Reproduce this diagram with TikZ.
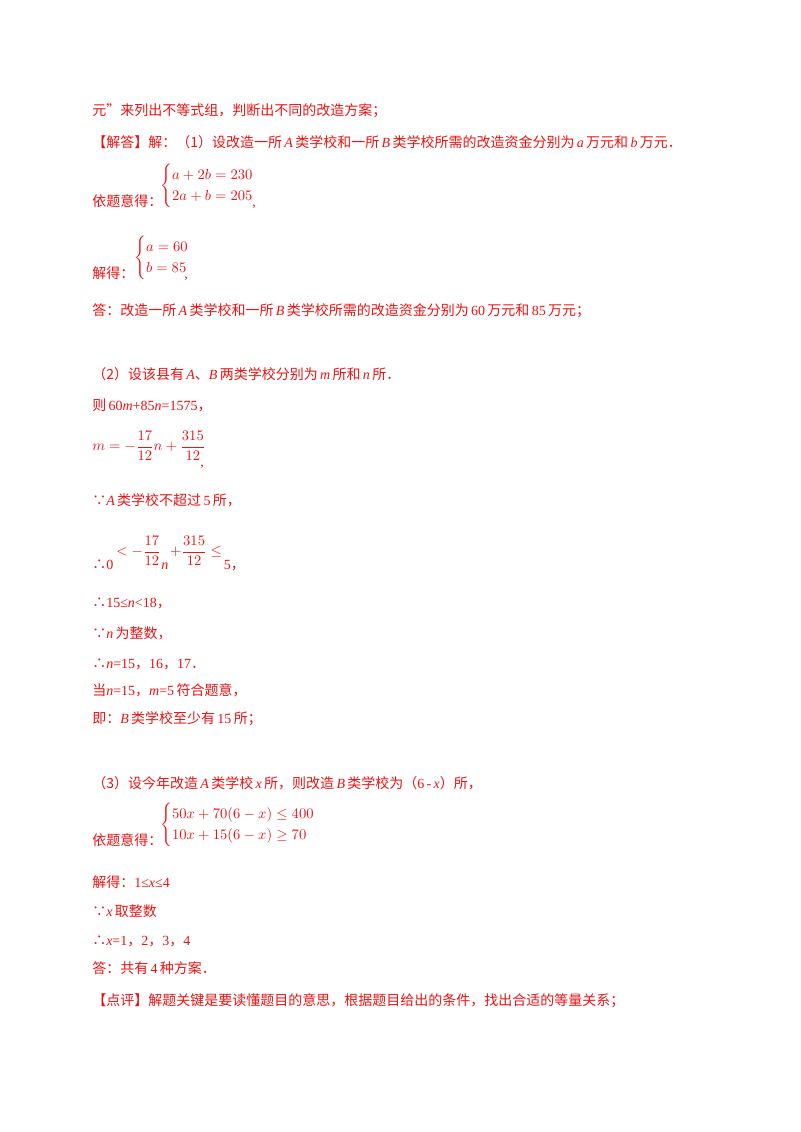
\documentclass[tikz,border=0pt]{standalone}
\usepackage{amsmath}
\usepackage{fontspec}
\setmainfont{Liberation Serif}
\newfontfamily\cjk{Noto Sans CJK SC}
\newcommand{\zh}[1]{{\cjk #1}}
\definecolor{rd}{RGB}{235,20,20}
\begin{document}
\begin{tikzpicture}[x=0.75pt,y=-0.75pt,
  t/.style={anchor=base west,inner sep=0pt,text=rd,font=\fontsize{10.5pt}{12pt}\selectfont},
  m/.style={anchor=west,inner sep=0pt,text=rd,font=\fontsize{11pt}{13pt}\selectfont}]
\useasboundingbox[fill=white] (0,0) rectangle (800,1132);
\node[t] (l1) at (92,115) {\zh{元”来列出不等式组，判断出不同的改造方案；}};
\node[t] (l2) at (92,147) {\zh{【解答】解：（1）设改造一所}\,\textit{A}\,\zh{类学校和一所}\,\textit{B}\,\zh{类学校所需的改造资金分别为}\,\textit{a}\,\zh{万元和}\,\textit{b}\,\zh{万元．}};
\node[t] (l3) at (92,206) {\zh{依题意得：}};
\node[m] (s1) at (160,186) {$\begin{cases}a+2b=230\\2a+b=205\end{cases}$};
\node[t] (c1) at (252,206) {,};
\node[t] (l4) at (92,278) {\zh{解得：}};
\node[m] (s2) at (134,258) {$\begin{cases}a=60\\b=85\end{cases}$};
\node[t] (c2) at (184,278) {,};
\node[t] (l5) at (92,315) {\zh{答：改造一所}\,\textit{A}\,\zh{类学校和一所}\,\textit{B}\,\zh{类学校所需的改造资金分别为}\,60\,\zh{万元和}\,85\,\zh{万元；}};
\node[t] (l6) at (92,379) {\zh{（2）设该县有}\,\textit{A}\zh{、}\textit{B}\,\zh{两类学校分别为}\,\textit{m}\,\zh{所和}\,\textit{n}\,\zh{所．}};
\node[t] (l7) at (92,410) {\zh{则}\,60\textit{m}+85\textit{n}=1575\zh{，}};
\node[m] (f1) at (92,446) {$m=-\dfrac{17}{12}n+\dfrac{315}{12}$};
\node[t] (c3) at (200,466) {,};
\node[t] (l8) at (92,505) {\zh{∵}\textit{A}\,\zh{类学校不超过}\,5\,\zh{所，}};
\node[t] (l9) at (92,569) {\zh{∴}0};
\node[m] (f2) at (116,551) {$<-\dfrac{17}{12}$};
\node[t] (nn) at (f2.east|-0,569) {\textit{n}};
\node[m] (f3) at ([xshift=1pt]nn.east|-f2) {$+\dfrac{315}{12}\le$};
\node[t] (l9b) at ([xshift=1pt]f3.east|-0,569) {5\zh{，}};
\node[t] (l10) at (92,607) {\zh{∴}15≤\textit{n}<18\zh{，}};
\node[t] (l11) at (92,638) {\zh{∵}\textit{n}\,\zh{为整数，}};
\node[t] (l12) at (92,668) {\zh{∴}\textit{n}=15\zh{，}16\zh{，}17\zh{．}};
\node[t] (l13) at (92,695) {\zh{当}\textit{n}=15\zh{，}\textit{m}=5\,\zh{符合题意，}};
\node[t] (l14) at (92,723) {\zh{即：}\textit{B}\,\zh{类学校至少有}\,15\,\zh{所；}};
\node[t] (l15) at (92,788) {\zh{（3）设今年改造}\,\textit{A}\,\zh{类学校}\,\textit{x}\,\zh{所，则改造}\,\textit{B}\,\zh{类学校为（}6\,-\,\textit{x}\zh{）所，}};
\node[t] (l16) at (92,845) {\zh{依题意得：}};
\node[m] (s3) at (160,825) {$\begin{cases}50x+70(6-x)\le400\\10x+15(6-x)\ge70\end{cases}$};
\node[t] (l17) at (92,887) {\zh{解得：}1≤\textit{x}≤4};
\node[t] (l18) at (92,916) {\zh{∵}\textit{x}\,\zh{取整数}};
\node[t] (l19) at (92,945) {\zh{∴}\textit{x}=1\zh{，}2\zh{，}3\zh{，}4};
\node[t] (l20) at (92,973) {\zh{答：共有}\,4\,\zh{种方案．}};
\node[t] (l21) at (92,1005) {\zh{【点评】解题关键是要读懂题目的意思，根据题目给出的条件，找出合适的等量关系；}};
\end{tikzpicture}
\end{document}
